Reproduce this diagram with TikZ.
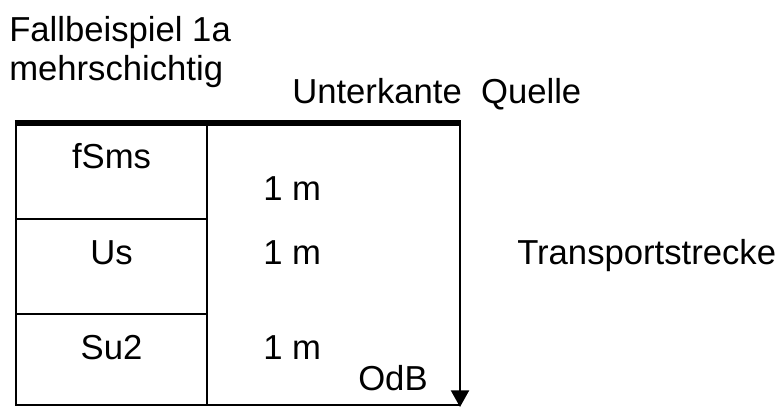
\documentclass[tikz,border=0pt]{standalone}
\usepackage{fontspec}
\setmainfont{Liberation Sans}
\usetikzlibrary{arrows.meta}
\begin{document}
\begin{tikzpicture}[x=0.75pt,y=-0.75pt,
  txt/.style={inner sep=0pt,font=\fontsize{26}{30}\selectfont},
  thin/.style={line width=1.6pt},
  thick top/.style={line width=5pt},
  flow/.style={line width=1.6pt,-{Triangle[width=13.5pt,length=12.5pt]}}]
\useasboundingbox (0,0) rectangle (784,408);
% corners
\coordinate (tl) at (16,123);
\coordinate (tm) at (207,123);
\coordinate (tr) at (461,123);
\coordinate (ar) at (460,123);
\coordinate (bl) at (16,405);
\coordinate (bm) at (207,405);
\coordinate (br) at (460,405);
\coordinate (end) at (460,407);
\coordinate (l1) at (16,219);
\coordinate (m1) at (207,219);
\coordinate (l2) at (16,314);
\coordinate (m2) at (207,314);
% table
\draw[thin] (tl) -- (bl) -- (br);
\draw[thin] (tm) -- (bm);
\draw[thin] (l1) -- (m1);
\draw[thin] (l2) -- (m2);
\draw[flow] (ar) -- (end);
\draw[thick top] ([xshift=-0.8pt]tl) -- (tr);
% texts
\node[txt,anchor=base west] (t1) at (9,41) {Fallbeispiel 1a};
\node[txt,anchor=base west] (t2) at (9,80) {mehrschichtig};
\node[txt,anchor=base west] (uq) at (292,103) {Unterkante\ \ Quelle};
\node[txt,anchor=base west] (tp) at (517,264) {Transportstrecke};
\node[txt,anchor=base] (c1) at (111.5,168) {fSms};
\node[txt,anchor=base] (c2) at (111.5,264) {Us};
\node[txt,anchor=base] (c3) at (111.5,359) {Su2};
\node[txt,anchor=base west] (m1t) at (263,200) {1 m};
\node[txt,anchor=base west] (m2t) at (263,264) {1 m};
\node[txt,anchor=base west] (m3t) at (263,359) {1 m};
\node[txt,anchor=base west] (odb) at (358,390) {OdB};
\end{tikzpicture}
\end{document}
